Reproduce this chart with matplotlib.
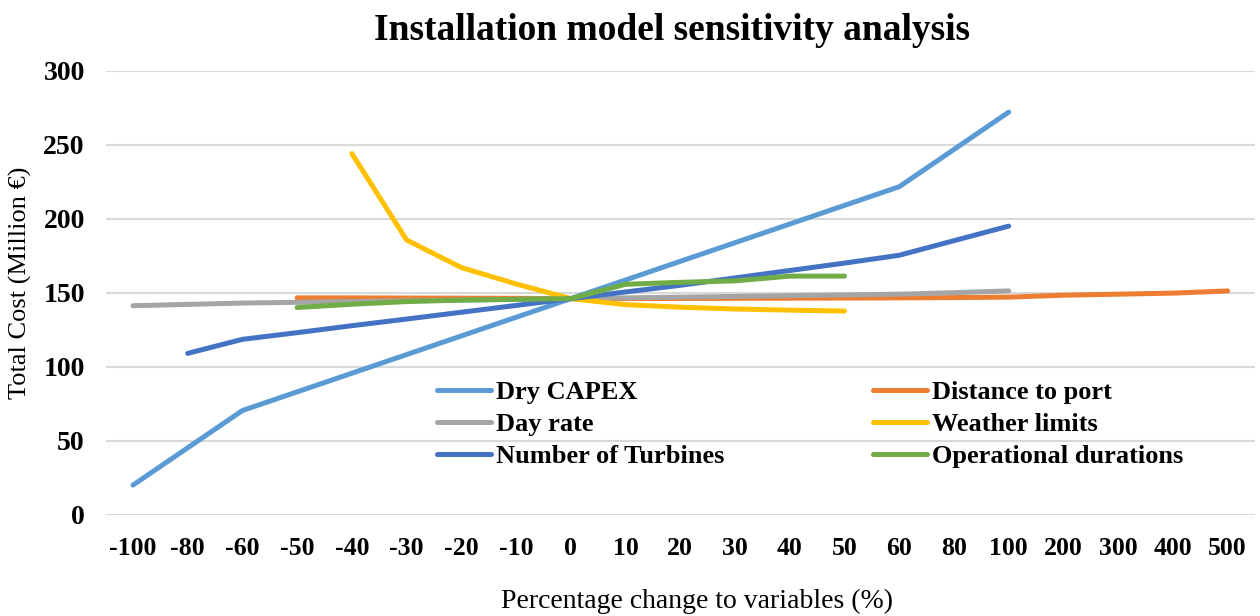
import numpy as np
import matplotlib
matplotlib.use("Agg")
import matplotlib.pyplot as plt

nan = np.nan
categories = ["-100", "-80", "-60", "-50", "-40", "-30", "-20", "-10", "0", "10", "20",
              "30", "40", "50", "60", "80", "100", "200", "300", "400", "500"]

dry_capex = [20, 45.2, 70.4, 83, 95.6, 108.2, 120.8, 133.4, 146, 158.6, 171.2,
             183.8, 196.4, 209, 221.6, nan, 272, nan, nan, nan, nan]
distance_to_port = [nan, nan, nan, 146.5, 146.5, 146.4, 146.3, 146.2, 146, 146, 146.1,
                    146.2, 146.3, 146.4, 146.5, 146.7, 147, 148.3, 149, 149.7, 151.2]
day_rate = [141.2, nan, 143, 143.5, 144, 144.5, 145, 145.5, 146, 146.5, 147,
            147.5, 148, 148.5, 149, 150, 151.2, nan, nan, nan, nan]
weather_limits = [nan, nan, nan, nan, 244, 185.6, 167, 155.9, 146, 141.9, 140.2,
                  139, 138.2, 137.6, nan, nan, nan, nan, nan, nan, nan]
num_turbines = [nan, 109, 118.5, 123, 127.7, 132.2, 136.8, 141.4, 146, 150.5, 155,
                160, 165, 170, 175.3, nan, 195, nan, nan, nan, nan]
op_durations = [nan, nan, nan, 140, 142.2, 144, 145, 145.5, 146, 155.7, 157,
                158, 161.2, 161.2, nan, nan, nan, nan, nan, nan, nan]

series = [
    ("Dry CAPEX", dry_capex, "#5B9BD5"),
    ("Distance to port", distance_to_port, "#ED7D31"),
    ("Day rate", day_rate, "#A5A5A5"),
    ("Weather limits", weather_limits, "#FFC000"),
    ("Number of Turbines", num_turbines, "#4472C4"),
    ("Operational durations", op_durations, "#70AD47"),
]

plt.rcParams['font.family'] = ['Liberation Serif', 'DejaVu Serif']

W, H = 1260, 616
fig = plt.figure(figsize=(W/100, H/100), dpi=100)
ax_l, ax_r, ax_t, ax_b = 105.6, 1255, 70.7, 514.7
ax = fig.add_axes([ax_l/W, 1-ax_b/H, (ax_r-ax_l)/W, (ax_b-ax_t)/H])

x = np.arange(len(categories))
handles = {}
for name, vals, col in series:
    v = np.array(vals, dtype=float)
    m = ~np.isnan(v)
    ln, = ax.plot(x[m], v[m], color=col, lw=3.6, solid_capstyle='round',
                  solid_joinstyle='round', label=name)
    handles[name] = ln

ax.set_xlim(-0.5, len(categories) - 0.5)
ax.set_ylim(0, 300)
ax.set_yticks(np.arange(0, 301, 50))
ax.set_xticks(x)
ax.set_xticklabels(categories)
ax.grid(axis='y', color='#D9D9D9', lw=1.5)
ax.set_axisbelow(True)
for s in ax.spines.values():
    s.set_visible(False)
ax.tick_params(axis='both', length=0)
ax.tick_params(axis='x', pad=16, labelsize=18.5)
ax.tick_params(axis='y', pad=15, labelsize=20)
for lab in ax.get_xticklabels() + ax.get_yticklabels():
    lab.set_fontweight('bold')

fig.text(20/W, 1-283/H, "Total Cost (Million €)", rotation=90,
         ha='center', va='center', fontsize=19)
fig.text(697/W, 1-601/H, "Percentage change to variables (%)",
         ha='center', va='center', fontsize=20)
fig.text(672/W, 1-30/H, "Installation model sensitivity analysis",
         ha='center', va='center', fontsize=27, fontweight='bold')

col1 = ["Dry CAPEX", "Day rate", "Number of Turbines"]
col2 = ["Distance to port", "Weather limits", "Operational durations"]
common = dict(frameon=False, loc='upper left', prop={'weight': 'bold', 'size': 19},
              handlelength=2.05, handletextpad=0.2, labelspacing=0.32,
              borderaxespad=0, borderpad=0)
ytop = 1 - 381/H
leg1 = fig.legend([handles[n] for n in col1], col1,
                  bbox_to_anchor=(437/W, ytop), **common)
leg2 = fig.legend([handles[n] for n in col2], col2,
                  bbox_to_anchor=(873/W, ytop), **common)

fig.savefig("out.png", dpi=100)
